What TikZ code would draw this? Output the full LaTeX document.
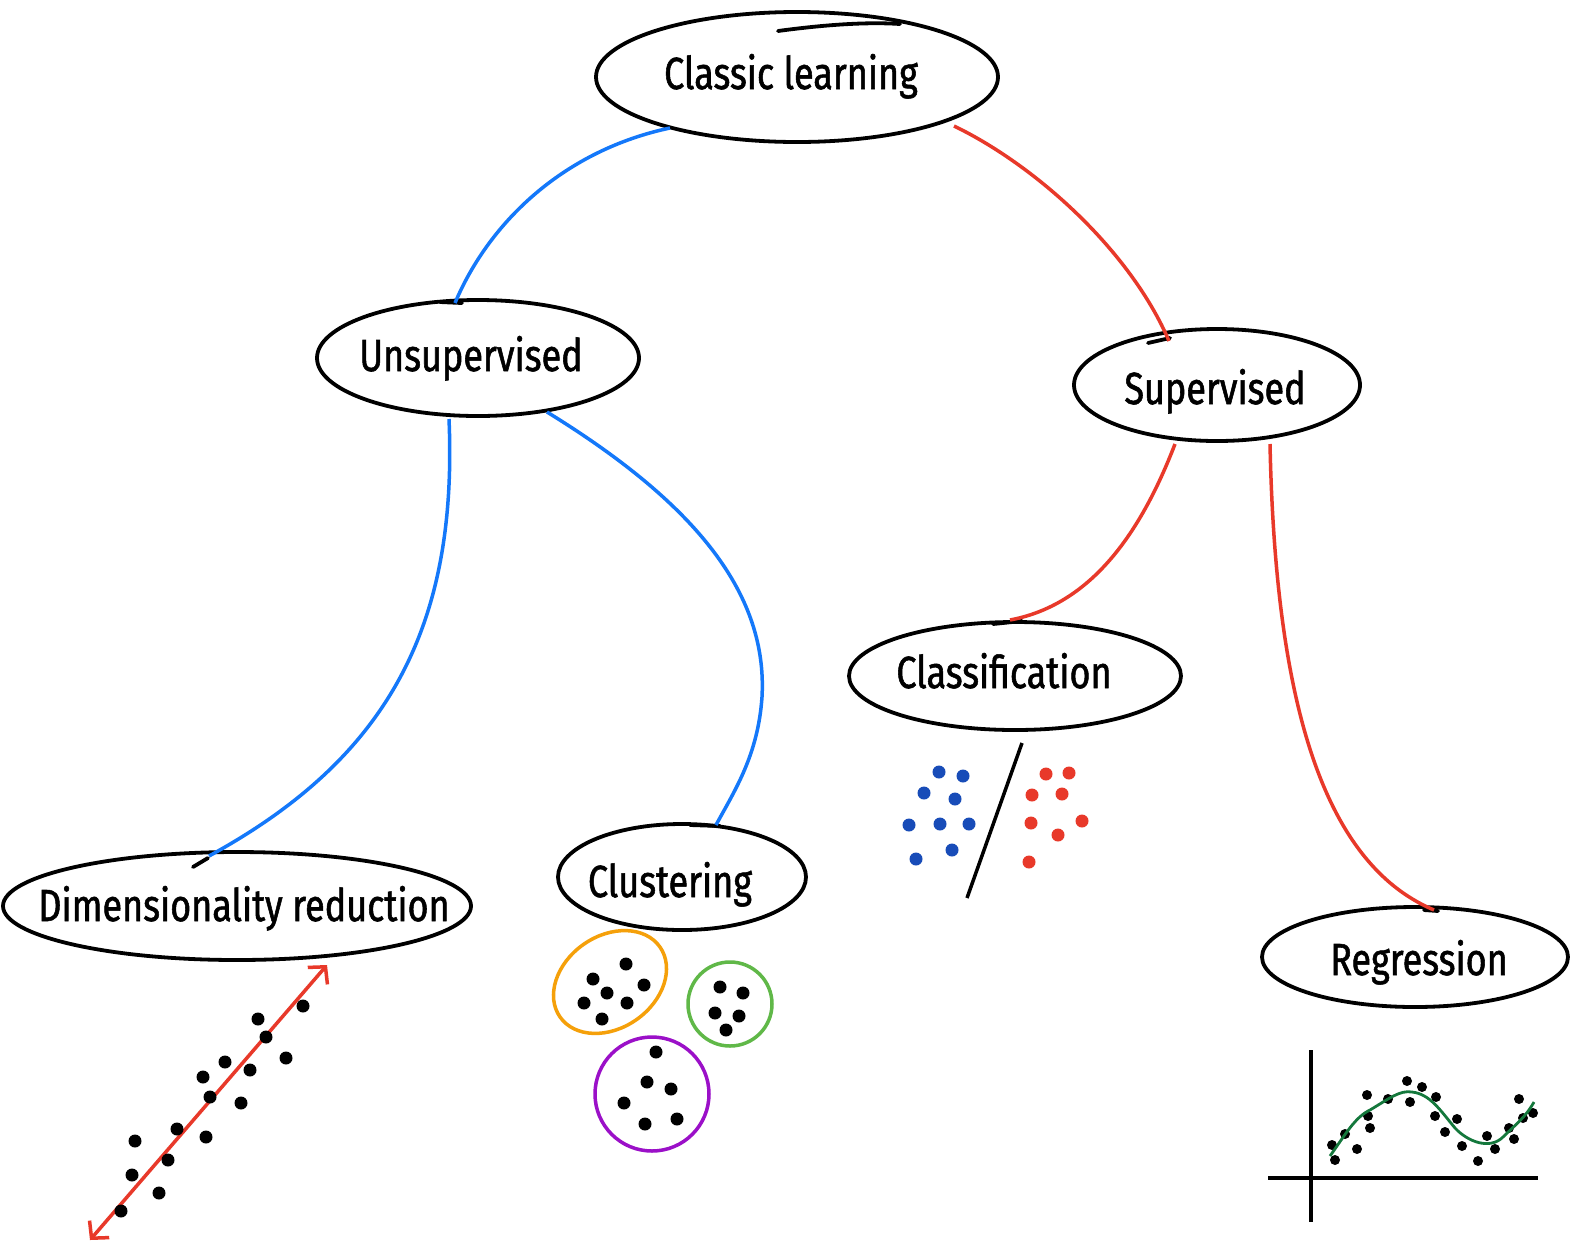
\documentclass[tikz,border=0pt]{standalone}
\usepackage{fontspec}
\setmainfont{Fira Sans}[FakeStretch=0.8, FakeBold=1.2]
\usetikzlibrary{shapes.geometric,arrows.meta}
\definecolor{cblue}{RGB}{20,120,250}
\definecolor{cred}{RGB}{232,57,42}
\definecolor{dblue}{RGB}{24,76,184}
\definecolor{corange}{RGB}{245,160,10}
\definecolor{cgreen}{RGB}{96,184,72}
\definecolor{cpurple}{RGB}{155,16,200}
\definecolor{dgreen}{RGB}{20,120,60}
\tikzset{
  bubble/.style={ellipse, draw=black, line width=3.8pt, inner sep=0pt},
  lbl/.style={font=\fontsize{45}{48}\selectfont, inner sep=0pt, anchor=base},
  hook/.style={draw=black, line width=3.8pt, line cap=round},
  blueline/.style={draw=cblue, line width=3.5pt},
  redline/.style={draw=cred, line width=3.5pt},
  ring/.style={line width=3.5pt},
}
\begin{document}
\begin{tikzpicture}[x=1pt,y=-1pt]
\useasboundingbox (0,0) rectangle (1583,1254);
\fill[white] (0,0) rectangle (1583,1254);

% ---------- nodes ----------
\node[bubble, minimum width=402pt, minimum height=130pt] (classic) at (797,77) {};
\node[bubble, minimum width=322pt, minimum height=116pt] (unsup) at (478,358) {};
\node[bubble, minimum width=286pt, minimum height=112pt] (sup) at (1217,385) {};
\node[bubble, minimum width=332pt, minimum height=108pt] (classif) at (1015,676) {};
\node[bubble, minimum width=468pt, minimum height=108pt] (dimred) at (237,906) {};
\node[bubble, minimum width=248pt, minimum height=106pt] (clust) at (682,877) {};
\node[bubble, minimum width=306pt, minimum height=100pt] (regr) at (1415,957) {};

\node[lbl] (tclassic) at (791,89) {Classic learning};
\node[lbl] (tunsup) at (471,371) {Unsupervised};
\node[lbl] (tsup) at (1215,404) {Supervised};
\node[lbl] (tclassif) at (1004,688) {Classification};
\node[lbl] (tdimred) at (244,921) {Dimensionality reduction};
\node[lbl] (tclust) at (670,897) {Clustering};
\node[lbl] (tregr) at (1419,975) {Regression};

% hand-drawn overlap strokes
\coordinate (h1a) at (778,31);
\coordinate (h1b) at (900,24);
\draw[hook] (h1a) .. controls (830,24) and (870,22) .. (h1b);
\coordinate (h2a) at (440,302);
\coordinate (h2b) at (462,303);
\draw[hook] (h2a) -- (h2b);
\coordinate (h3a) at (1148,343);
\coordinate (h3b) at (1170,338);
\draw[hook] (h3a) -- (h3b);
\coordinate (h4a) at (993,624);
\coordinate (h4b) at (1022,621);
\draw[hook] (h4a) -- (h4b);
\coordinate (h5a) at (193,867);
\coordinate (h5b) at (208,858);
\draw[hook] (h5a) -- (h5b);
\coordinate (h6a) at (690,825);
\coordinate (h6b) at (720,826);
\draw[hook] (h6a) -- (h6b);
\coordinate (h7a) at (1424,910);
\coordinate (h7b) at (1438,911);
\draw[hook] (h7a) -- (h7b);

% ---------- connectors ----------
\coordinate (c1a) at (670,128);
\coordinate (c1b) at (455,303);
\draw[blueline] (c1a) .. controls (566,150) and (490,220) .. (c1b);
\coordinate (c2a) at (954,126);
\coordinate (c2b) at (1169,341);
\draw[redline] (c2a) .. controls (1035,165) and (1130,250) .. (c2b);
\coordinate (c3a) at (449,419);
\coordinate (c3b) at (209,856);
\draw[blueline] (c3a) .. controls (458,630) and (385,760) .. (c3b);
\coordinate (c4a) at (547,412);
\coordinate (c4m) at (762,697);
\coordinate (c4b) at (716,825);
\draw[blueline] (c4a) .. controls (690,500) and (768,590) .. (c4m) .. controls (758,755) and (735,790) .. (c4b);
\coordinate (c5a) at (1175,444);
\coordinate (c5b) at (1010,620);
\draw[redline] (c5a) .. controls (1140,535) and (1090,605) .. (c5b);
\coordinate (c6a) at (1270,444);
\coordinate (c6b) at (1434,910);
\draw[redline] (c6a) .. controls (1275,680) and (1315,860) .. (c6b);

% ---------- dimensionality reduction scatter ----------
\coordinate (arrA) at (90,1240);
\coordinate (arrB) at (327,965);
\draw[cred, line width=3.5pt, line cap=round, {Straight Barb[length=12pt,width=26pt]}-{Straight Barb[length=12pt,width=26pt]}] (arrA) -- (arrB);
\foreach \p in {(303,1006),(258,1019),(266,1037),(286,1058),(225,1062),(250,1070),(203,1077),(210,1097),(241,1103),(177,1129),(206,1137),(135,1141),(168,1160),(132,1175),(159,1193),(121,1211)}
  \fill[black] \p circle (6.5);

% ---------- clusters ----------
\node[ellipse, draw=corange, ring, minimum width=122pt, minimum height=92pt, rotate=35] (orng) at (610,982) {};
\node[circle, draw=cgreen, ring, minimum size=84pt] (grn) at (730,1004) {};
\node[circle, draw=cpurple, ring, minimum size=114pt] (purp) at (652,1094) {};
\foreach \p in {(626,964),(593,979),(644,985),(607,993),(584,1003),(627,1003),(602,1019),
                (720,987),(743,993),(715,1013),(739,1016),(726,1030),
                (656,1052),(647,1082),(671,1089),(624,1103),(677,1119),(645,1124)}
  \fill[black] \p circle (6.5);

% ---------- classification ----------
\coordinate (sepA) at (1022,743);
\coordinate (sepB) at (967,898);
\draw[black, line width=3.5pt] (sepA) -- (sepB);
\foreach \p in {(939,772),(963,776),(924,793),(955,799),(909,825),(940,824),(969,824),(952,850),(916,859)}
  \fill[dblue] \p circle (6.5);
\foreach \p in {(1046,774),(1069,773),(1032,795),(1062,794),(1031,823),(1082,821),(1058,835),(1029,862)}
  \fill[cred] \p circle (6.5);

% ---------- regression plot ----------
\coordinate (yaxA) at (1311,1050);
\coordinate (yaxB) at (1311,1222);
\coordinate (xaxA) at (1268,1178);
\coordinate (xaxB) at (1538,1178);
\draw[black, line width=3.2pt] (yaxA) -- (yaxB);
\draw[black, line width=3.2pt] (xaxA) -- (xaxB);
\foreach \p in {(1332,1145),(1335,1160),(1345,1134),(1357,1149),(1367,1095),(1368,1116),(1370,1128),(1388,1099),(1407,1081),(1410,1102),(1422,1087),(1436,1097),(1435,1116),(1445,1132),(1457,1119),(1462,1146),(1478,1161),(1487,1136),(1495,1149),(1509,1128),(1514,1139),(1519,1099),(1523,1118),(1533,1113)}
  \fill[black] \p circle (5);
\coordinate (fitA) at (1330,1156);
\coordinate (fitB) at (1534,1102);
\draw[dgreen, line width=2.8pt] (fitA) .. controls (1345,1135) and (1355,1117) .. (1370,1110)
  .. controls (1390,1098) and (1400,1090) .. (1412,1092)
  .. controls (1430,1094) and (1440,1110) .. (1455,1128)
  .. controls (1468,1142) and (1490,1150) .. (1503,1137)
  .. controls (1515,1125) and (1525,1118) .. (fitB);
\end{tikzpicture}
\end{document}
